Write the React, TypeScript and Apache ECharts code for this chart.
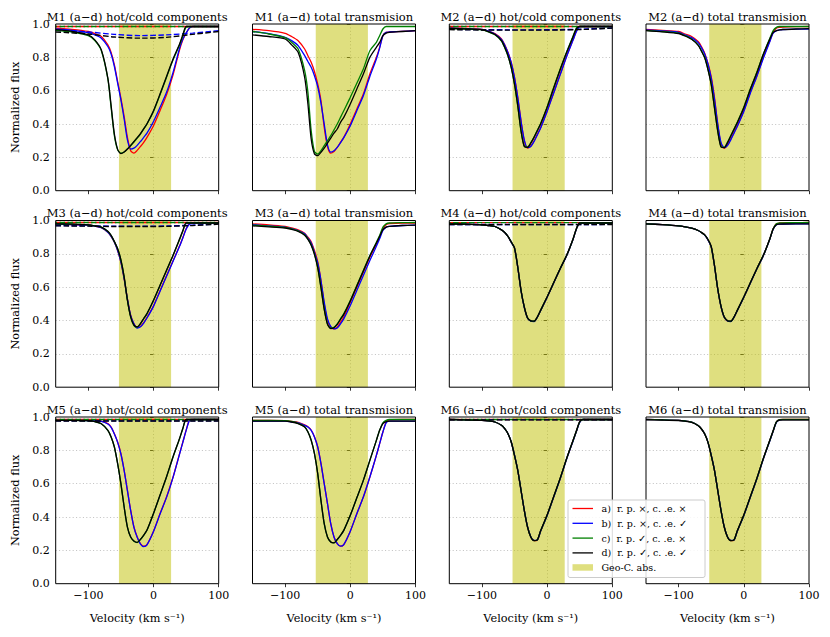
import React, { useEffect, useRef } from "react";
import * as echarts from "echarts";

// ---------- data ----------
const velocity = [-150, -125, -100, -90, -80, -70, -65, -60, -55, -50, -45, -40, -35, -30, -25, -20, -15, -10, 0, 10, 20, 30, 40, 45, 50, 55, 60, 80, 100];
const velocityHot = [-150, -100, -60, -20, 20, 60, 100];
const geoBand = [-53, 27];
const xTicks = [-100, 0, 100];
const legendLabels = ["a)  r. p. ×, c. .e. ×", "b)  r. p. ×, c. .e. ✓", "c)  r. p. ✓, c. .e. ×", "d)  r. p. ✓, c. .e. ✓", "Geo-C. abs."];
const titles = [
  "M1 (a−d) hot/cold components", "M1 (a−d) total transmision", "M2 (a−d) hot/cold components", "M2 (a−d) total transmision",
  "M3 (a−d) hot/cold components", "M3 (a−d) total transmision", "M4 (a−d) hot/cold components", "M4 (a−d) total transmision",
  "M5 (a−d) hot/cold components", "M5 (a−d) total transmision", "M6 (a−d) hot/cold components", "M6 (a−d) total transmision",
];

// M1
const m1hcA = [.975, .968, .955, .942, .925, .875, .83, .755, .655, .555, .445, .32, .24, .225, .242, .265, .29, .32, .39, .48, .575, .695, .845, .905, .945, .975, .985, .985, .985];
const m1hcB = [.97, .962, .948, .935, .915, .865, .82, .745, .645, .545, .43, .305, .25, .255, .272, .295, .32, .345, .415, .50, .59, .71, .855, .91, .945, .975, .985, .985, .985];
const m1hcC = [.962, .952, .93, .90, .84, .67, .50, .33, .245, .225, .232, .25, .27, .292, .315, .34, .37, .40, .475, .575, .68, .785, .875, .93, .982, .985, .985, .985, .985];
const m1hcD = [.966, .956, .935, .905, .845, .675, .51, .34, .248, .222, .232, .25, .272, .295, .318, .343, .372, .402, .48, .58, .685, .79, .88, .935, .985, .985, .985, .985, .985];
const m1hotA = [.985, .985, .985, .985, .985, .985, .985];
const m1hotB = [.962, .952, .938, .93, .935, .945, .96];
const m1hotC = [.985, .985, .985, .985, .985, .985, .985];
const m1hotD = [.952, .94, .922, .915, .92, .938, .955];
const m1tA = [.968, .96, .944, .925, .90, .85, .81, .77, .715, .64, .54, .38, .265, .225, .235, .26, .29, .32, .40, .49, .58, .70, .80, .86, .93, .95, .952, .956, .96];
const m1tB = [.955, .942, .92, .90, .87, .81, .775, .74, .69, .625, .525, .40, .275, .232, .24, .26, .288, .318, .39, .48, .57, .685, .79, .855, .93, .95, .952, .956, .96];
const m1tC = [.955, .94, .918, .89, .85, .72, .59, .36, .235, .22, .24, .27, .30, .33, .365, .40, .44, .48, .56, .645, .73, .84, .89, .93, .97, .985, .985, .985, .985];
const m1tD = [.935, .925, .91, .875, .83, .68, .52, .31, .22, .21, .23, .255, .285, .315, .345, .37, .41, .44, .52, .61, .70, .80, .86, .89, .93, .945, .95, .955, .96];

// M2
const m2hcA = [.976, .973, .968, .958, .942, .91, .875, .83, .77, .68, .56, .42, .30, .255, .268, .298, .338, .378, .478, .588, .698, .808, .908, .958, .985, .985, .985, .985, .985];
const m2hcB = [.975, .972, .967, .957, .94, .908, .873, .828, .768, .678, .558, .418, .305, .258, .265, .295, .335, .375, .475, .585, .695, .805, .905, .955, .984, .985, .985, .985, .985];
const m2hcC = [.973, .97, .965, .953, .935, .898, .858, .808, .738, .638, .508, .358, .268, .262, .288, .322, .362, .402, .502, .618, .728, .832, .928, .975, .985, .985, .985, .985, .985];
const m2hcD = [.974, .971, .966, .954, .937, .90, .86, .81, .74, .64, .51, .36, .265, .26, .285, .32, .36, .40, .50, .615, .725, .83, .925, .972, .985, .985, .985, .985, .985];
const m2hotA = [.985, .985, .985, .985, .985, .985, .985];
const m2hotB = [.968, .966, .965, .965, .966, .97, .976];
const m2hotC = [.985, .985, .985, .985, .985, .985, .985];
const m2hotD = [.966, .964, .963, .963, .964, .968, .975];
const m2tA = [.968, .962, .955, .94, .925, .895, .865, .825, .765, .685, .56, .40, .28, .255, .275, .31, .35, .39, .48, .59, .69, .80, .90, .95, .975, .98, .982, .984, .985];
const m2tB = [.965, .958, .95, .935, .918, .888, .858, .82, .76, .675, .55, .40, .29, .258, .27, .305, .345, .385, .475, .585, .685, .795, .895, .945, .96, .965, .967, .969, .97];
const m2tC = [.962, .955, .945, .93, .91, .875, .84, .80, .73, .64, .50, .36, .265, .26, .29, .33, .37, .41, .50, .61, .71, .82, .915, .96, .98, .985, .985, .985, .985];
const m2tD = [.96, .953, .943, .928, .908, .872, .837, .797, .727, .637, .497, .357, .262, .258, .288, .328, .368, .408, .498, .608, .708, .818, .91, .95, .96, .965, .967, .97, .972];

// M3
const m3hcA = [.978, .976, .972, .966, .957, .93, .905, .87, .82, .75, .65, .53, .43, .38, .358, .364, .388, .418, .488, .578, .668, .758, .848, .898, .95, .98, .985, .985, .985];
const m3hcB = [.978, .976, .972, .966, .957, .93, .905, .87, .82, .75, .65, .53, .43, .38, .355, .362, .385, .415, .485, .575, .665, .755, .845, .895, .948, .978, .985, .985, .985];
const m3hcC = [.98, .978, .974, .968, .96, .934, .91, .873, .83, .763, .66, .52, .42, .37, .36, .38, .41, .44, .52, .61, .70, .79, .885, .935, .985, .985, .985, .985, .985];
const m3hcD = [.98, .978, .974, .968, .96, .935, .911, .874, .831, .764, .662, .522, .422, .372, .362, .382, .412, .442, .522, .612, .702, .792, .89, .94, .985, .985, .985, .985, .985];
const m3hotA = [.988, .988, .988, .988, .988, .988, .988];
const m3hotB = [.97, .968, .966, .966, .967, .972, .98];
const m3hotC = [.988, .988, .988, .988, .988, .988, .988];
const m3hotD = [.968, .966, .964, .964, .965, .97, .978];
const m3tA = [.98, .974, .964, .955, .944, .924, .90, .873, .82, .753, .64, .50, .40, .36, .35, .36, .39, .42, .51, .60, .69, .78, .86, .90, .95, .975, .982, .985, .985];
const m3tB = [.975, .968, .96, .951, .94, .92, .895, .865, .81, .745, .64, .51, .41, .365, .35, .355, .38, .41, .49, .58, .67, .76, .845, .89, .94, .96, .965, .97, .972];
const m3tC = [.972, .966, .958, .95, .938, .915, .89, .855, .80, .72, .60, .47, .38, .355, .36, .38, .41, .44, .52, .61, .70, .79, .87, .91, .96, .98, .985, .987, .988];
const m3tD = [.968, .962, .955, .947, .935, .912, .887, .852, .797, .717, .597, .467, .377, .352, .357, .377, .407, .437, .517, .607, .697, .787, .865, .905, .945, .96, .965, .97, .972];

// M4
const m4hcA = [.98, .978, .974, .97, .964, .944, .928, .904, .87, .835, .72, .58, .48, .415, .397, .395, .42, .46, .54, .625, .71, .79, .89, .95, .985, .985, .985, .985, .985];
const m4hcB = [.98, .978, .974, .97, .964, .944, .928, .904, .869, .834, .719, .579, .479, .414, .396, .394, .419, .459, .539, .624, .709, .789, .889, .949, .985, .985, .985, .985, .985];
const m4hcC = [.98, .978, .974, .97, .964, .944, .928, .905, .871, .836, .721, .581, .481, .416, .398, .396, .421, .461, .541, .626, .711, .791, .891, .951, .985, .985, .985, .985, .985];
const m4hcD = [.98, .978, .974, .97, .964, .944, .928, .905, .871, .836, .721, .581, .481, .416, .398, .396, .421, .461, .541, .626, .711, .791, .891, .951, .985, .985, .985, .985, .985];
const m4hotA = [.987, .987, .987, .987, .987, .987, .987];
const m4hotB = [.976, .976, .976, .976, .976, .976, .977];
const m4hotC = [.987, .987, .987, .987, .987, .987, .987];
const m4hotD = [.975, .975, .975, .975, .975, .975, .976];
const m4tA = [.98, .975, .968, .962, .954, .94, .928, .914, .885, .843, .73, .59, .485, .42, .398, .395, .42, .46, .54, .625, .71, .79, .89, .95, .98, .985, .986, .987, .988];
const m4tB = [.98, .975, .968, .962, .954, .94, .928, .913, .884, .842, .729, .589, .484, .419, .397, .394, .419, .459, .539, .624, .709, .789, .889, .948, .975, .978, .979, .98, .98];
const m4tC = [.98, .975, .968, .962, .954, .94, .928, .914, .886, .844, .731, .591, .486, .421, .399, .396, .421, .461, .541, .626, .711, .791, .891, .951, .981, .985, .986, .987, .988];
const m4tD = [.98, .975, .968, .962, .954, .94, .928, .914, .886, .844, .731, .591, .486, .421, .399, .396, .421, .461, .541, .626, .711, .791, .891, .949, .975, .978, .979, .98, .98];

// M5
const m5hcA = [.98, .98, .98, .978, .975, .96, .94, .90, .85, .78, .68, .56, .44, .34, .28, .24, .225, .235, .315, .42, .52, .64, .78, .85, .92, .98, .985, .985, .985];
const m5hcB = [.98, .98, .979, .977, .974, .958, .938, .898, .848, .778, .678, .558, .438, .338, .278, .238, .223, .233, .313, .418, .518, .638, .778, .848, .918, .978, .985, .985, .985];
const m5hcC = [.98, .98, .978, .972, .96, .92, .88, .82, .72, .60, .46, .34, .28, .255, .247, .265, .29, .32, .42, .53, .64, .76, .87, .93, .985, .985, .985, .985, .985];
const m5hcD = [.98, .98, .978, .972, .96, .92, .88, .82, .72, .60, .46, .34, .28, .256, .248, .266, .292, .322, .422, .532, .642, .762, .872, .932, .985, .985, .985, .985, .985];
const m5hotA = [.985, .985, .985, .985, .985, .985, .985];
const m5hotB = [.977, .977, .977, .977, .977, .977, .977];
const m5hotC = [.985, .985, .985, .985, .985, .985, .985];
const m5hotD = [.976, .976, .976, .976, .976, .976, .976];
const m5tA = [.98, .98, .978, .973, .968, .953, .942, .922, .882, .822, .722, .60, .48, .36, .28, .24, .225, .235, .315, .42, .52, .64, .77, .84, .91, .97, .983, .985, .985];
const m5tB = [.975, .975, .975, .97, .965, .95, .94, .92, .88, .82, .72, .60, .48, .36, .28, .24, .225, .235, .315, .42, .52, .64, .77, .84, .91, .965, .975, .975, .975];
const m5tC = [.98, .98, .978, .973, .962, .942, .912, .862, .782, .662, .50, .36, .28, .25, .245, .265, .29, .32, .41, .515, .62, .74, .86, .92, .965, .98, .985, .985, .985];
const m5tD = [.975, .975, .975, .97, .96, .94, .91, .86, .78, .66, .50, .36, .28, .25, .245, .265, .29, .32, .41, .515, .62, .74, .86, .92, .96, .972, .975, .975, .975];

// M6
const m6hcA = [.985, .983, .98, .977, .97, .95, .93, .90, .85, .77, .68, .56, .44, .34, .28, .258, .262, .315, .41, .52, .63, .75, .86, .915, .97, .985, .985, .985, .985];
const m6hcB = [.985, .983, .98, .977, .97, .95, .93, .90, .85, .772, .682, .562, .442, .342, .282, .26, .262, .314, .408, .518, .628, .748, .858, .914, .968, .985, .985, .985, .985];
const m6hcC = [.985, .983, .98, .977, .97, .95, .93, .90, .85, .77, .68, .56, .44, .34, .28, .258, .263, .316, .411, .521, .631, .751, .861, .916, .971, .985, .985, .985, .985];
const m6hcD = [.985, .983, .98, .977, .97, .95, .93, .90, .85, .77, .68, .56, .44, .34, .28, .258, .263, .317, .412, .522, .632, .752, .862, .917, .972, .985, .985, .985, .985];
const m6hotA = [.985, .985, .985, .985, .985, .985, .985];
const m6hotB = [.984, .984, .984, .984, .984, .984, .984];
const m6hotC = [.985, .985, .985, .985, .985, .985, .985];
const m6hotD = [.983, .983, .983, .983, .983, .983, .983];
const m6tA = [.985, .983, .98, .976, .969, .949, .929, .899, .849, .77, .68, .56, .44, .34, .28, .258, .262, .315, .41, .52, .63, .75, .86, .915, .97, .984, .985, .985, .985];
const m6tB = [.985, .983, .98, .976, .969, .949, .929, .899, .849, .772, .682, .562, .442, .342, .282, .26, .262, .314, .408, .518, .628, .748, .858, .914, .968, .983, .984, .984, .984];
const m6tC = [.985, .983, .98, .976, .969, .949, .929, .899, .849, .77, .68, .56, .44, .34, .28, .258, .263, .316, .411, .521, .631, .751, .861, .916, .971, .984, .985, .985, .985];
const m6tD = [.984, .982, .979, .975, .968, .948, .928, .898, .848, .77, .68, .56, .44, .34, .28, .258, .263, .317, .412, .522, .632, .752, .862, .917, .97, .982, .983, .983, .983];

const solidSets = [
  [m1hcA, m1hcB, m1hcC, m1hcD], [m1tA, m1tB, m1tC, m1tD], [m2hcA, m2hcB, m2hcC, m2hcD], [m2tA, m2tB, m2tC, m2tD],
  [m3hcA, m3hcB, m3hcC, m3hcD], [m3tA, m3tB, m3tC, m3tD], [m4hcA, m4hcB, m4hcC, m4hcD], [m4tA, m4tB, m4tC, m4tD],
  [m5hcA, m5hcB, m5hcC, m5hcD], [m5tA, m5tB, m5tC, m5tD], [m6hcA, m6hcB, m6hcC, m6hcD], [m6tA, m6tB, m6tC, m6tD],
];
const hotSets = [
  [m1hotA, m1hotB, m1hotC, m1hotD], null, [m2hotA, m2hotB, m2hotC, m2hotD], null,
  [m3hotA, m3hotB, m3hotC, m3hotD], null, [m4hotA, m4hotB, m4hotC, m4hotD], null,
  [m5hotA, m5hotB, m5hotC, m5hotD], null, [m6hotA, m6hotB, m6hotC, m6hotD], null,
];

// ---------- style / layout ----------
const FONT = "DejaVu Serif";
const COLORS = ["#ff0000", "#0000ff", "#008000", "#000000"];
const BAND = "rgba(191,191,0,0.5)";
const LEFTS = [55.7, 252.5, 449.3, 646];
const TOPS = [24, 220.5, 417];
const PW = 163;
const PH = 166.7;

function fmtX(v: number) {
  return v < 0 ? "−" + Math.abs(v) : String(v);
}

export default function App() {
  const ref = useRef<HTMLDivElement>(null);
  useEffect(() => {
    document.body.style.margin = "0";
    const chart = echarts.init(ref.current!, null, { renderer: "svg" });
    const grid: any[] = [];
    const xAxis: any[] = [];
    const yAxis: any[] = [];
    const series: any[] = [];
    const graphic: any[] = [];
    titles.forEach((t, i) => {
      const r = Math.floor(i / 4);
      const c = i % 4;
      const left = LEFTS[c];
      const top = TOPS[r];
      grid.push({ left, top, width: PW, height: PH, containLabel: false, outerBoundsMode: "none" });
      xAxis.push({
        gridIndex: i, type: "value", min: -150, max: 100,
        axisLine: { show: false },
        axisTick: { show: true, length: 3.5, customValues: xTicks, lineStyle: { color: "#000", width: 0.8 } },
        axisLabel: { show: r === 2, customValues: xTicks, formatter: fmtX, fontFamily: FONT, fontSize: 11, color: "#000", margin: 6 },
        splitLine: { show: true, showMinLine: false, showMaxLine: false, lineStyle: { color: "#b0b0b0", width: 0.8, type: [1, 2.4] } },
        name: r === 2 ? "Velocity (km s⁻¹)" : "", nameLocation: "middle", nameGap: 29,
        nameTextStyle: { fontFamily: FONT, fontSize: 11.3, color: "#000" },
      });
      yAxis.push({
        gridIndex: i, type: "value", min: 0, max: 1, interval: 0.2,
        axisLine: { show: false },
        axisTick: { show: true, length: 3.5, lineStyle: { color: "#000", width: 0.8 } },
        axisLabel: { show: c === 0, formatter: (v: number) => v.toFixed(1), fontFamily: FONT, fontSize: 11, color: "#000", margin: 6 },
        splitLine: { show: true, showMinLine: false, showMaxLine: false, lineStyle: { color: "#b0b0b0", width: 0.8, type: [1, 2.4] } },
        name: c === 0 ? "Normalized flux" : "", nameLocation: "middle", nameGap: 35, nameRotate: 90,
        nameTextStyle: { fontFamily: FONT, fontSize: 11.3, color: "#000" },
      });
      series.push({
        type: "line", xAxisIndex: i, yAxisIndex: i, data: [], silent: true, z: 1,
        markArea: { silent: true, itemStyle: { color: BAND }, data: [[{ xAxis: geoBand[0] }, { xAxis: geoBand[1] }]] },
      });
      solidSets[i].forEach((arr, k) => {
        series.push({
          type: "line", xAxisIndex: i, yAxisIndex: i, silent: true, showSymbol: false, smooth: 0.25, z: 3 + k,
          data: velocity.map((v, j) => [v, arr[j]]),
          lineStyle: { color: COLORS[k], width: 1.3 },
        });
      });
      const hs = hotSets[i];
      if (hs) {
        hs.forEach((arr, k) => {
          series.push({
            type: "line", xAxisIndex: i, yAxisIndex: i, silent: true, showSymbol: false, smooth: 0.3, z: 3 + k,
            data: velocityHot.map((v, j) => [v, arr[j]]),
            lineStyle: { color: COLORS[k], width: 1.4, type: [5.5, 2.4], dashOffset: k === 2 ? 4 : 0 },
          });
        });
      }
      graphic.push({
        type: "text", x: left + PW / 2, y: top - 1.5, z: 50,
        style: { text: t, align: "center", verticalAlign: "bottom", fontFamily: FONT, fontSize: 11.5, fill: "#000" },
      });
      graphic.push({
        type: "rect", z: 60, silent: true,
        shape: { x: left, y: top, width: PW, height: PH },
        style: { fill: "none", stroke: "#000", lineWidth: 1 },
      });
    });
    // legend
    const lx = 568, ly = 500;
    graphic.push({
      type: "rect", z: 70, shape: { x: lx, y: ly, width: 137, height: 77.5, r: 2 },
      style: { fill: "rgba(255,255,255,0.85)", stroke: "#cccccc", lineWidth: 1 },
    });
    legendLabels.forEach((lab, k) => {
      const yy = ly + 8.5 + k * 14.8;
      if (k < 4) {
        graphic.push({ type: "line", z: 71, shape: { x1: lx + 4.5, y1: yy, x2: lx + 25, y2: yy }, style: { stroke: COLORS[k], lineWidth: 1.3 } });
      } else {
        graphic.push({ type: "rect", z: 71, shape: { x: lx + 4.5, y: yy - 3.5, width: 20.5, height: 6.5 }, style: { fill: BAND } });
      }
      graphic.push({
        type: "text", z: 72, x: lx + 33.5, y: yy,
        style: { text: lab, verticalAlign: "middle", fontFamily: FONT, fontSize: 9.5, fill: "#000" },
      });
    });
    chart.setOption({ animation: false, grid, xAxis, yAxis, series, graphic });
    return () => chart.dispose();
  }, []);
  return <div ref={ref} style={{ width: 830, height: 637 }} />;
}
